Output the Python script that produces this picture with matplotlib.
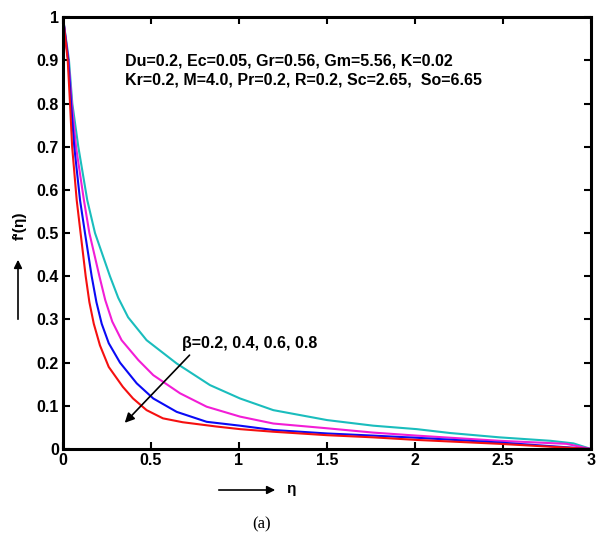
import numpy as np
import matplotlib
matplotlib.use('Agg')
import matplotlib.pyplot as plt

# curves: beta = 0.2 (cyan), 0.4 (magenta), 0.6 (blue), 0.8 (red)
x_b02 = [0, 0.034, 0.053, 0.087, 0.138, 0.182, 0.267, 0.314, 0.37, 0.475, 0.646, 0.835,
         1.006, 1.195, 1.5, 1.763, 2.01, 2.2, 2.48, 2.77, 2.9, 3.0]
y_b02 = [1, 0.9, 0.8, 0.7, 0.576, 0.5, 0.4, 0.35, 0.305, 0.252, 0.198, 0.148,
         0.117, 0.09, 0.067, 0.054, 0.046, 0.037, 0.027, 0.019, 0.013, 0.0]

x_b04 = [0, 0.031, 0.05, 0.074, 0.119, 0.15, 0.207, 0.24, 0.28, 0.333, 0.428, 0.513,
         0.665, 0.816, 1.006, 1.195, 1.5, 1.763, 2.01, 2.48, 2.86, 3.0]
y_b04 = [1, 0.9, 0.8, 0.7, 0.576, 0.5, 0.4, 0.345, 0.295, 0.252, 0.206, 0.171,
         0.129, 0.098, 0.075, 0.059, 0.048, 0.038, 0.031, 0.019, 0.012, 0.0]

x_b06 = [0, 0.03, 0.046, 0.064, 0.097, 0.125, 0.163, 0.19, 0.22, 0.26, 0.324, 0.419,
         0.513, 0.646, 0.816, 1.006, 1.195, 1.5, 1.763, 2.01, 2.48, 3.0]
y_b06 = [1, 0.9, 0.8, 0.7, 0.576, 0.5, 0.4, 0.34, 0.29, 0.245, 0.2, 0.152,
         0.117, 0.086, 0.063, 0.054, 0.044, 0.036, 0.031, 0.026, 0.015, 0.0]

x_b08 = [0, 0.027, 0.04, 0.052, 0.078, 0.1, 0.129, 0.15, 0.175, 0.21, 0.26, 0.34,
         0.398, 0.475, 0.568, 0.68, 0.873, 1.006, 1.195, 1.5, 1.763, 2.01, 2.48, 3.0]
y_b08 = [1, 0.9, 0.8, 0.7, 0.576, 0.5, 0.4, 0.34, 0.29, 0.24, 0.19, 0.144,
         0.117, 0.09, 0.071, 0.062, 0.052, 0.046, 0.04, 0.032, 0.027, 0.021, 0.012, 0.0]

xticks = [0, 0.5, 1, 1.5, 2, 2.5, 3]
xtick_labels = ['0', '0.5', '1', '1.5', '2', '2.5', '3']
yticks = [0, 0.1, 0.2, 0.3, 0.4, 0.5, 0.6, 0.7, 0.8, 0.9, 1]
ytick_labels = ['0', '0.1', '0.2', '0.3', '0.4', '0.5', '0.6', '0.7', '0.8', '0.9', '1']

plt.rcParams['font.family'] = ['Liberation Sans', 'DejaVu Sans']
plt.rcParams['font.weight'] = 'bold'

fig = plt.figure(figsize=(5.97, 5.36), dpi=100)
ax = fig.add_axes([0.1055, 0.1623, 0.8845, 0.8057])

ax.plot(x_b02, y_b02, color='#1ABDBD', lw=1.5)
ax.plot(x_b04, y_b04, color='#F21DD6', lw=1.5)
ax.plot(x_b06, y_b06, color='#0A0AF5', lw=1.5)
ax.plot(x_b08, y_b08, color='#F51010', lw=1.5)

ax.set_xlim(0, 3)
ax.set_ylim(0, 1)
ax.set_xticks(xticks)
ax.set_xticklabels(xtick_labels, fontsize=11.5, fontweight='bold')
ax.set_yticks(yticks)
ax.set_yticklabels(ytick_labels, fontsize=11.5, fontweight='bold')
ax.tick_params(direction='in', length=5, width=1.5, top=True, right=True, pad=3)
for s in ax.spines.values():
    s.set_linewidth(2.2)

ax.text(0.117, 0.889, 'Du=0.2, Ec=0.05, Gr=0.56, Gm=5.56, K=0.02', transform=ax.transAxes,
        fontsize=11.5, fontweight='bold', va='baseline')
ax.text(0.117, 0.843, 'Kr=0.2, M=4.0, Pr=0.2, R=0.2, Sc=2.65,  So=6.65', transform=ax.transAxes,
        fontsize=11.5, fontweight='bold', va='baseline')

ax.annotate('', xy=(0.34, 0.056), xytext=(0.73, 0.222),
            arrowprops=dict(arrowstyle='-|>', color='black', lw=1.2, mutation_scale=14))
ax.text(0.674, 0.234, 'β=0.2, 0.4, 0.6, 0.8', fontsize=11.5, fontweight='bold', va='baseline')

# axis labels with arrows, placed in figure pixels
fig.text(20 / 597, 1 - 226 / 536, "f'(η)", rotation=90, fontsize=11, fontweight='bold',
         ha='center', va='center')
fig.add_artist(matplotlib.patches.FancyArrowPatch(
    (18 / 597, 1 - 322 / 536), (18 / 597, 1 - 257 / 536), transform=fig.transFigure,
    arrowstyle='-|>', mutation_scale=12, color='black', lw=1.2))
fig.add_artist(matplotlib.patches.FancyArrowPatch(
    (216 / 597, 1 - 490 / 536), (278 / 597, 1 - 490 / 536), transform=fig.transFigure,
    arrowstyle='-|>', mutation_scale=12, color='black', lw=1.2))
fig.text(286 / 597, 1 - 489 / 536, 'η', fontsize=11, fontweight='bold', ha='left', va='center')
fig.text(262 / 597, 1 - 524 / 536, '(a)', fontsize=12, fontweight='normal',
         family='Liberation Serif', ha='center', va='center')

fig.savefig('out.png', dpi=100)
